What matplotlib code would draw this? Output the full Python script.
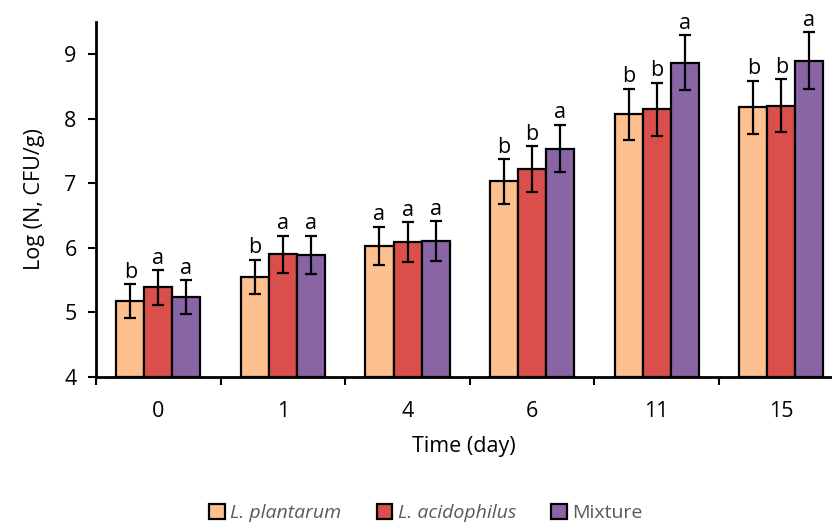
import matplotlib
matplotlib.use("Agg")
import matplotlib.pyplot as plt
import numpy as np

days = ["0", "1", "4", "6", "11", "15"]
series_names = ["L. plantarum", "L. acidophilus", "Mixture"]
plantarum = [5.18, 5.55, 6.03, 7.03, 8.07, 8.18]
plantarum_err = [0.26, 0.27, 0.30, 0.35, 0.40, 0.41]
acidophilus = [5.39, 5.90, 6.09, 7.22, 8.15, 8.20]
acidophilus_err = [0.27, 0.29, 0.31, 0.36, 0.41, 0.41]
mixture = [5.24, 5.89, 6.11, 7.54, 8.87, 8.90]
mixture_err = [0.26, 0.30, 0.31, 0.37, 0.43, 0.44]
plantarum_letters = ["b", "b", "a", "b", "b", "b"]
acidophilus_letters = ["a", "a", "a", "b", "b", "b"]
mixture_letters = ["a", "a", "a", "a", "a", "a"]
y_ticks = [4, 5, 6, 7, 8, 9]

colors = ["#FDC08E", "#DA4F4B", "#8A65A5"]

plt.rcParams['font.family'] = ['Open Sans', 'DejaVu Sans']

fig = plt.figure(figsize=(8.32, 5.25), dpi=100)
ax = fig.add_axes([0.1154, 0.2819, 0.8836, 0.6761])

x = np.arange(len(days))
w = 0.225
vals = [plantarum, acidophilus, mixture]
errs = [plantarum_err, acidophilus_err, mixture_err]
lets = [plantarum_letters, acidophilus_letters, mixture_letters]
for i in range(3):
    pos = x + (i - 1) * w
    ax.bar(pos, np.array(vals[i]) - 4, bottom=4, width=w, color=colors[i],
           edgecolor="black", linewidth=1.6, label=series_names[i], zorder=2)
    ax.errorbar(pos, vals[i], yerr=errs[i], fmt="none", ecolor="black",
                elinewidth=1.6, capsize=4.5, capthick=1.6, zorder=3)
    for p, v, e, l in zip(pos, vals[i], errs[i], lets[i]):
        ax.text(p, v + e + 0.02, l, ha="center", va="bottom", fontsize=15.5,
                color="black")

ax.set_xlim(-0.5, 5.4)
ax.set_ylim(4, 9.5)
ax.set_yticks(y_ticks)
ax.set_xticks(x)
ax.set_xticklabels(days)
ax.set_xticks(np.arange(-0.5, 5.0, 1.0), minor=True)
ax.tick_params(axis="x", which="major", length=0, pad=17, labelsize=15.5)
ax.tick_params(axis="x", which="minor", length=6, width=1.5, direction="out")
ax.tick_params(axis="y", length=6, width=1.5, direction="out", labelsize=15.5, pad=8)
for s in ["top", "right"]:
    ax.spines[s].set_visible(False)
for s in ["left", "bottom"]:
    ax.spines[s].set_linewidth(2)

ax.set_xlabel("Time (day)", fontsize=15.5, labelpad=10)
ax.set_ylabel("Log (N, CFU/g)", fontsize=15.5, labelpad=14)

handles, labels = ax.get_legend_handles_labels()
leg = fig.legend(handles, labels, loc="center", bbox_to_anchor=(0.512, 0.023),
                 ncol=3, frameon=False, fontsize=14, handlelength=0.8,
                 handleheight=0.8, handletextpad=0.3, columnspacing=1.8,
                 labelcolor="#595959")
for t in leg.get_texts()[:2]:
    t.set_fontstyle("italic")

fig.savefig("out.png", dpi=100)
